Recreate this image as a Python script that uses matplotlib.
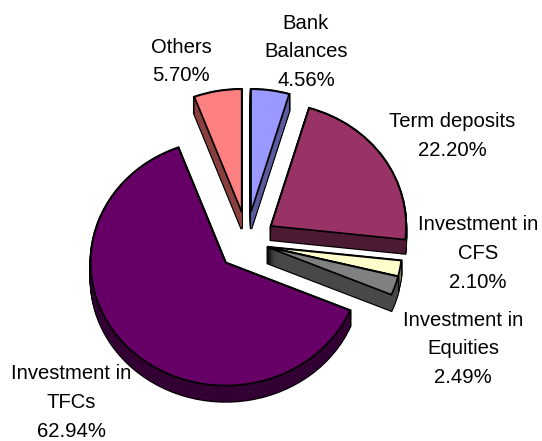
import matplotlib
matplotlib.use("Agg")
import matplotlib.pyplot as plt

plt.rcParams["font.family"] = ["Liberation Sans", "DejaVu Sans"]

# Data (clockwise from 12 o'clock)
labels = ["Bank\nBalances", "Term deposits", "Investment in\nCFS",
          "Investment in\nEquities", "Investment in\nTFCs", "Others"]
values = [4.56, 22.20, 2.10, 2.49, 62.94, 5.70]

# Colours
top_colors = ["#9999FF", "#993366", "#FFFFCC", "#808080", "#660066", "#FF8080"]
wall_colors = ["#5A5A9E", "#4D1A33", "#7F7F66", "#484848", "#330033", "#8A3F3F"]

# Layout in pixels (y measured from the top of the picture)
W, H = 542, 441
squash = 0.91
radius = 135
apex = [(251, 212), (271, 226), (267, 247), (267, 247), (225.7, 262.7), (241.7, 212)]
depth = [17, 14, 15, 16, 16, 17]
label_pos = [(306, 52), (452, 136), (478, 253.5), (463, 349), (71, 402.5), (181, 61.5)]
draw_order = [5, 0, 1, 2, 3, 4]


def to_data(x, y):
    return x, (H - y) / squash


fig, ax = plt.subplots(figsize=(W / 100, H / 100), dpi=100)
fig.subplots_adjust(left=0, right=1, bottom=0, top=1)


def draw_layer(offset_fn, colors, edge, lw, zorder):
    # one full pie, then every slice moved to its own exploded position
    wedges, _ = ax.pie(values, colors=colors, startangle=90, counterclock=False,
                       radius=radius, wedgeprops={"edgecolor": edge, "linewidth": lw})
    for i, w in enumerate(wedges):
        x, y = apex[i]
        w.set_center(to_data(x, y + offset_fn(i)))
        w.set_zorder(zorder + draw_order.index(i) * 10)
        w.set_joinstyle("miter")
    return wedges


# walls: black silhouette first, then dark fill, then the top face
steps = [s / 16 for s in range(17)]
for s in steps:
    draw_layer(lambda i: depth[i] * s, wall_colors, "black", 1.7, 1)
for s in steps:
    draw_layer(lambda i: depth[i] * s, wall_colors, "none", 0, 2)
draw_layer(lambda i: 0, top_colors, "black", 1.25, 3)

for lab, val, (x, y) in zip(labels, values, label_pos):
    tx, ty = to_data(x, y)
    ax.text(tx, ty, f"{lab}\n{val:.2f}%", ha="center", va="center",
            fontsize=14.6, color="black", linespacing=1.66, zorder=200)

ax.set_aspect("auto")
ax.set_xlim(0, W)
ax.set_ylim(0, H / squash)
ax.axis("off")

fig.savefig("out.png", dpi=100)
